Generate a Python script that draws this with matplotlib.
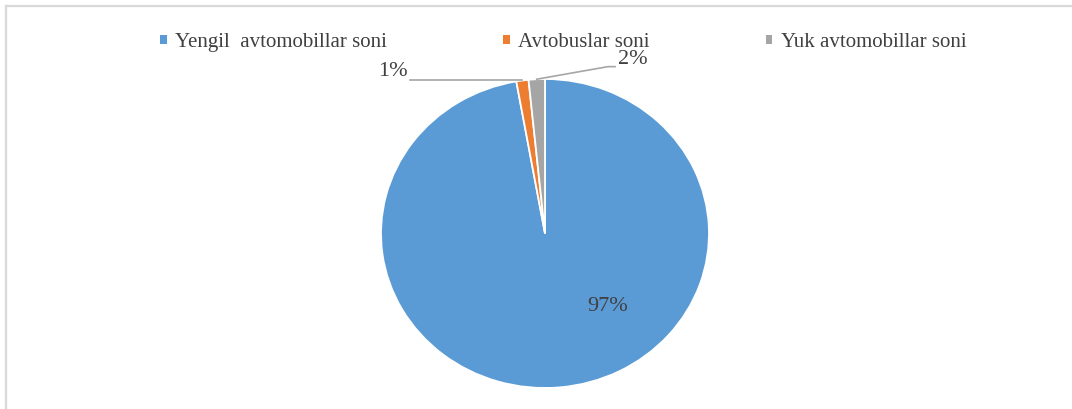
import numpy as np
import matplotlib.pyplot as plt
from matplotlib.lines import Line2D
from matplotlib.patches import Patch

plt.rcParams['font.family'] = ['Liberation Serif', 'DejaVu Serif']

# ma'lumotlar
labels = ['Yengil  avtomobillar soni', 'Avtobuslar soni', 'Yuk avtomobillar soni']
values = [97.2, 1.2, 1.6]
colors = ['#5B9BD5', '#ED7D31', '#A5A5A5']
pct_text = ['97%', '1%', '2%']

W, H = 1072, 409
fig = plt.figure(figsize=(W / 100, H / 100), dpi=100)

# ramka (chap va yuqori chiziq)
fig.add_artist(Line2D([6 / W, 6 / W], [0, 1 - 6 / H], color='#d9d9d9', lw=1.6))
fig.add_artist(Line2D([6 / W, 1], [1 - 6 / H, 1 - 6 / H], color='#d9d9d9', lw=1.6))

# doira (biroz cho'zilgan)
ax = fig.add_axes([381 / W, 21 / H, 328 / W, 309 / H])
wedges, _ = ax.pie(values, colors=colors, startangle=90, counterclock=False,
                   wedgeprops=dict(edgecolor='white', linewidth=1.3))
ax.set_aspect('auto')
ax.set_xlim(-1, 1)
ax.set_ylim(-1, 1)
ax.axis('off')

txt_col = '#404040'
line_col = '#A6A6A6'

# 97% ichida
ax.text(0.384, -0.472, pct_text[0], ha='center', va='center', fontsize=16, color=txt_col)

# 1% - chap tomonga chiziq
w1 = wedges[1]
a1 = np.deg2rad((w1.theta1 + w1.theta2) / 2)
x1, y1 = np.cos(a1), np.sin(a1)
ax.plot([x1, -0.823], [y1, y1], color=line_col, lw=1.2, clip_on=False)
ax.text(-0.835, 1.049, pct_text[1], ha='right', va='center', fontsize=16, color=txt_col)

# 2% - o'ng tomonga chiziq
w2 = wedges[2]
a2 = np.deg2rad((w2.theta1 + w2.theta2) / 2)
x2, y2 = np.cos(a2), np.sin(a2)
ax.plot([x2, 0.384, 0.427], [y2, 1.08, 1.08], color=line_col, lw=1.2, clip_on=False)
ax.text(0.445, 1.123, pct_text[2], ha='left', va='center', fontsize=16, color=txt_col)

# legenda
handles = [Patch(facecolor=c, edgecolor='none') for c in colors]
fig.legend(handles, labels, ncol=3, loc='center', bbox_to_anchor=(0.5255, 0.897),
           frameon=False, fontsize=15, handlelength=0.3, handleheight=0.3,
           handletextpad=0.4, columnspacing=5.6, labelcolor=txt_col)

fig.savefig('out.png', dpi=100)
